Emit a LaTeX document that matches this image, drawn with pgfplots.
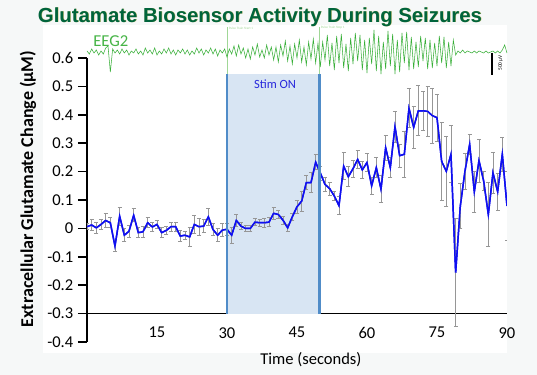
\documentclass[border=0pt]{standalone}
\usepackage{pgfplots}
\usepackage{pgfplotstable}
\pgfplotsset{compat=1.18}
\usepackage{fontspec}
\setmainfont{Carlito}
\newfontfamily\arialfont{Liberation Sans}
\definecolor{titlegreen}{RGB}{0,100,60}
\definecolor{titleshadow}{RGB}{200,190,110}
\definecolor{eeggreen}{RGB}{55,175,55}
\definecolor{eeglight}{RGB}{160,215,150}
\definecolor{eeglabel}{RGB}{70,180,70}
\definecolor{stimfill}{RGB}{216,229,243}
\definecolor{stimedge}{RGB}{80,140,200}
\definecolor{dataline}{RGB}{15,15,240}
\definecolor{errgray}{RGB}{150,150,150}
\definecolor{stimtext}{RGB}{40,40,220}
\definecolor{bgout}{RGB}{246,248,248}

\pgfplotstableread{
t y e
0 0.006 0.010
1 0.012 0.020
2 0.002 0.018
3 0.014 0.016
4 0.028 0.026
5 0.020 0.018
6 -0.062 0.018
7 0.043 0.032
8 -0.024 0.023
9 -0.010 0.020
10 0.046 0.023
11 -0.015 0.018
12 -0.012 0.018
13 0.020 0.018
14 0.005 0.015
15 0.014 0.013
16 -0.015 0.018
17 -0.007 0.015
18 0.006 0.016
19 0.006 0.016
20 -0.027 0.020
21 -0.024 0.015
22 -0.030 0.032
23 0.014 0.032
24 0.006 0.030
25 0.008 0.023
26 0.041 0.029
27 -0.004 0.020
28 -0.024 0.023
29 -0.006 0.023
30 -0.003 0.020
31 -0.024 0.028
32 0.028 0.022
33 0.008 0.012
34 0.000 0.010
35 0.000 0.010
36 0.022 0.012
37 0.020 0.012
38 0.020 0.015
39 0.022 0.015
40 0.053 0.020
41 0.049 0.015
42 0.029 0.015
43 0.002 0.012
44 0.041 0.012
45 0.076 0.023
46 0.096 0.035
47 0.161 0.025
48 0.161 0.036
49 0.233 0.026
50 0.195 0.025
51 0.155 0.023
52 0.140 0.023
53 0.114 0.015
54 0.080 0.031
55 0.219 0.048
56 0.182 0.035
57 0.210 0.030
58 0.243 0.030
59 0.206 0.031
60 0.232 0.032
61 0.150 0.030
62 0.214 0.036
63 0.138 0.048
64 0.284 0.044
65 0.214 0.036
66 0.358 0.054
67 0.256 0.041
68 0.261 0.082
69 0.423 0.069
70 0.356 0.073
71 0.414 0.088
72 0.414 0.068
73 0.412 0.088
74 0.397 0.097
75 0.390 0.083
76 0.236 0.136
77 0.201 0.124
78 0.261 0.100
79 -0.156 0.190
80 0.079 0.080
81 0.202 0.063
82 0.296 0.034
83 0.129 0.072
84 0.239 0.076
85 0.167 0.032
86 0.049 0.114
87 0.196 0.072
88 0.129 0.066
89 0.261 0.059
90 0.079 0.120
}\datatable

\pgfplotstableread{
t v
0 1
0.5 -2
1 3
1.5 -1
2 2
2.5 -3
3 1
3.5 -2
4 4
4.5 6
5 -20
5.5 3
6 -1
6.5 2
7 -2
7.5 3
8 -1
8.5 2
9 -3
9.5 1
10 -1
10.5 3
11 -2
11.5 1
12 -3
12.5 4
13 -1
13.5 2
14 -2
14.5 4
15 -3
15.5 1
16 -2
16.5 3
17 -1
17.5 4
18 -2
18.5 2
19 -3
19.5 2
20 -1
20.5 3
21 -2
21.5 2
22 -3
22.5 1
23 -2
23.5 4
24 -1
24.5 3
25 -3
25.5 2
26 -1
26.5 4
27 -2
27.5 3
28 -4
28.5 2
29 -1
29.5 3
30 -5
30.5 3
31 -2
31.5 6
32 -4
32.5 7
33 -2
33.5 4
34 -6
34.5 3
35 -7
35.5 5
36 -3
36.5 8
37 -5
37.5 2
38 -6
38.5 7
39 -3
39.5 5
40 -8
40.5 5
41 -10
41.5 7
42 -4
42.5 11
43 -9
43.5 6
44 -12
44.5 8
45 -6
45.5 12
46 -10
46.5 5
47 -13
47.5 10
48 -7
48.5 13
49 -11
49.5 9
50 -15
50.5 10
51 -8
51.5 17
52 -14
52.5 9
53 -18
53.5 16
54 -11
54.5 18
55 -16
55.5 8
56 -19
56.5 14
57 -12
57.5 19
58 -9
58.5 17
59 -18
59.5 12
60 -21
60.5 14
61 -12
61.5 22
62 -19
62.5 16
63 -22
63.5 10
64 -17
64.5 21
65 -14
65.5 18
66 -22
66.5 12
67 -20
67.5 19
68 -11
68.5 20
69 -18
69.5 15
70 -17
70.5 10
71 -15
71.5 16
72 -9
72.5 14
73 -17
73.5 12
74 -16
74.5 9
75 -14
75.5 16
76 -11
76.5 15
77 -16
77.5 10
78 -14
78.5 12
79 -3
79.5 1
80 -1
80.5 2
81 -1
81.5 1
82 0
82.5 -1
83 1
83.5 -1
84 1
84.5 0
85 -1
85.5 1
86 -1
86.5 0
87 1
87.5 -1
88 1
88.5 -1
89 2
89.5 7
90 -1
}\eegtable

\begin{document}
\begin{tikzpicture}
% background (fixes picture size: 537 x 375 px at 0.75pt/px)
\fill[bgout] (-65.25pt,-24.75pt) rectangle (337.5pt,256.5pt);
\fill[white] (-33pt,-8.25pt) rectangle (315pt,237.75pt);
% title
\node[titleshadow, font=\arialfont\bfseries\fontsize{15.25}{18}\selectfont] at (130.1pt,243.4pt) {Glutamate Biosensor Activity During Seizures};
\node[titlegreen, font=\arialfont\bfseries\fontsize{15.25}{18}\selectfont] at (129.75pt,243.75pt) {Glutamate Biosensor Activity During Seizures};

\begin{axis}[
  at={(0pt,0pt)}, anchor=south west,
  width=315pt, height=213pt, scale only axis,
  xmin=0, xmax=90, ymin=-0.4, ymax=0.6,
  axis y line=left, axis x line=bottom,
  axis x line shift=-21.3pt,
  axis line style={-, line width=1.3pt, black},
  xtick={15,30,45,60,75,90},
  xticklabels={15,30,45,60,75,90},
  ytick={-0.4,-0.3,-0.2,-0.1,0,0.1,0.2,0.3,0.4,0.5,0.6},
  yticklabels={-0.4,-0.3,-0.2,-0.1,0,0.1,0.2,0.3,0.4,0.5,0.6},
  tick align=outside,
  major tick length=6.75pt,
  ytick style={black, line width=1.2pt},
  xtick style={draw=none},
  ticklabel style={font=\fontsize{12.4}{14}\selectfont},
  xlabel={Time (seconds)},
  xlabel style={at={(axis description cs:0.533,-0.063)}, anchor=center, font=\fontsize{12.4}{14}\selectfont},
  ylabel={Extracellular Glutamate Change (μM)},
  ylabel style={at={(axis description cs:-0.1405,0.539)}, anchor=center, font=\bfseries\fontsize{13.5}{16}\selectfont},
]
\fill[stimfill] (axis cs:30,-0.3) rectangle (axis cs:49.8,0.542);
\addplot[dataline, line width=1.1pt, mark=none, forget plot,
  error bars/.cd, y dir=both, y explicit, error mark=|,
  error bar style={errgray, line width=0.6pt},
  error mark options={errgray, mark size=1.6pt, line width=0.6pt}]
  table[x=t, y=y, y error=e] {\datatable};
\addplot[dataline, line width=1.1pt, mark=none] table[x=t, y=y] {\datatable};
\draw[stimedge, line width=2.2pt] (axis cs:30,-0.3) -- (axis cs:30,0.542);
\draw[stimedge, line width=2.2pt] (axis cs:49.8,-0.3) -- (axis cs:49.8,0.542);
\node[stimtext, font=\fontsize{9.4}{11}\selectfont] at (axis cs:40.3,0.507) {Stim ON};
\end{axis}

\begin{axis}[
  at={(0pt,195pt)}, anchor=south west,
  width=315pt, height=45pt, scale only axis,
  xmin=0, xmax=90, ymin=-30, ymax=30,
  hide axis, clip=false,
]
\draw[eeglight, line width=0.5pt] (axis cs:30,25) -- (axis cs:30,-22);
\draw[eeglight, line width=0.5pt] (axis cs:49.7,25) -- (axis cs:49.7,-22);
\addplot[eeggreen, line width=0.4pt, mark=none] table[x=t, y=v] {\eegtable};
\draw[black, line width=1.5pt] (axis cs:86.8,-1) -- (axis cs:86.8,-23);
\node[rotate=90, font=\fontsize{4}{4}\selectfont] at (axis cs:88.6,-11) {500 μV};
\node[eeglabel, font=\fontsize{12.5}{14}\selectfont] at (axis cs:5.1,11) {EEG2};
\node[anchor=west, eeglight, font=\fontsize{2.5}{3}\selectfont, inner sep=0.5pt] at (axis cs:30.2,24) {Pulse Train Start 1};
\node[anchor=west, eeglight, font=\fontsize{2.5}{3}\selectfont, inner sep=0.5pt] at (axis cs:49.9,24) {Pulse Train Stop 1};
\end{axis}
\end{tikzpicture}
\end{document}
